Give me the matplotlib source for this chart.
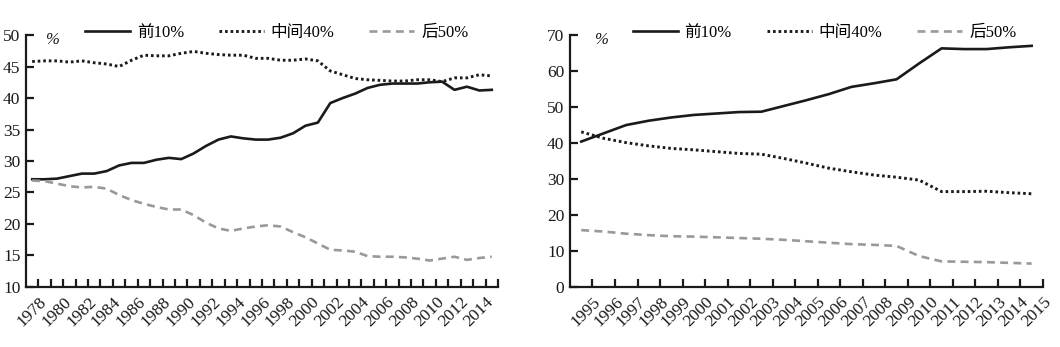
import numpy as np
import matplotlib
matplotlib.use('Agg')
import matplotlib.pyplot as plt

plt.rcParams['font.family'] = ['Liberation Serif', 'Noto Sans CJK SC']
plt.rcParams['axes.unicode_minus'] = False

# 1978-2015
years_a = list(range(1978, 2016))
top10_a = [27.1, 27.1, 27.2, 27.6, 28.0, 28.0, 28.4, 29.3, 29.7, 29.7,
           30.2, 30.5, 30.3, 31.2, 32.4, 33.4, 33.9, 33.6, 33.4, 33.4,
           33.7, 34.4, 35.6, 36.1, 39.2, 40.0, 40.7, 41.6, 42.1, 42.3,
           42.3, 42.3, 42.5, 42.6, 41.3, 41.8, 41.2, 41.3]
mid40_a = [45.8, 45.9, 45.9, 45.7, 45.9, 45.6, 45.4, 45.0, 46.0, 46.8,
           46.7, 46.7, 47.1, 47.4, 47.1, 46.9, 46.8, 46.8, 46.3, 46.3,
           46.0, 46.0, 46.2, 45.9, 44.3, 43.7, 43.1, 42.9, 42.8, 42.7,
           42.7, 42.9, 42.9, 42.6, 43.2, 43.2, 43.7, 43.5]
bot50_a = [26.9, 26.8, 26.4, 26.0, 25.8, 25.9, 25.6, 24.6, 23.8, 23.2,
           22.7, 22.3, 22.3, 21.4, 20.2, 19.3, 18.9, 19.3, 19.6, 19.8,
           19.6, 18.7, 17.9, 16.9, 15.9, 15.8, 15.6, 14.9, 14.8, 14.8,
           14.7, 14.5, 14.2, 14.5, 14.8, 14.3, 14.6, 14.8]

# 1995-2015
years_b = list(range(1995, 2016))
top10_b = [40.4, 42.7, 45.0, 46.2, 47.1, 47.8, 48.2, 48.6, 48.7, 50.3,
           51.9, 53.6, 55.6, 56.6, 57.7, 62.1, 66.3, 66.1, 66.1, 66.6, 67.0]
mid40_b = [43.1, 41.3, 40.1, 39.2, 38.5, 38.1, 37.6, 37.1, 36.9, 35.7,
           34.4, 33.0, 32.0, 31.1, 30.5, 29.7, 26.5, 26.5, 26.6, 26.2, 25.9]
bot50_b = [15.8, 15.4, 14.8, 14.4, 14.1, 14.0, 13.8, 13.6, 13.4, 13.1,
           12.7, 12.3, 11.9, 11.7, 11.4, 8.6, 7.1, 7.0, 6.9, 6.7, 6.5]

labels = ['前10%', '中间40%', '后50%']

fig = plt.figure(figsize=(10.6, 3.47), dpi=100)
ax1 = fig.add_axes([0.0245, 0.173, 0.4453, 0.726])
ax2 = fig.add_axes([0.5377, 0.173, 0.4462, 0.726])


def draw(ax, years, top, mid, bot, ylim, ystep, label_step, leg_x, pct_x):
    ax.plot(years, top, color='#1a1a1a', lw=1.9, label=labels[0])
    ax.plot(years, mid, color='#1a1a1a', lw=2.1, ls=(0, (0.9, 1.0)),
            label=labels[1])
    ax.plot(years, bot, color='#999999', lw=1.9, ls=(0, (3.0, 2.0)),
            label=labels[2])

    ax.set_xlim(years[0] - 0.5, years[-1] + 0.5)
    ax.set_ylim(*ylim)
    ax.set_yticks(np.arange(ylim[0], ylim[1] + 1, ystep))

    # category boundaries carry the tick marks, labels sit on the right edge
    ax.set_xticks(np.arange(years[0] + 0.5, years[-1] + 0.6, 1))
    ax.set_xticklabels([str(y) if (y - years[0]) % label_step == 0 else ''
                        for y in years], rotation=45, ha='right', va='top',
                       rotation_mode='anchor')

    for s in ['top', 'right']:
        ax.spines[s].set_visible(False)
    for s in ['left', 'bottom']:
        ax.spines[s].set_linewidth(1.6)
        ax.spines[s].set_color('#1a1a1a')
    ax.tick_params(axis='both', direction='in', length=6, width=1.6,
                   color='#1a1a1a', labelsize=12.5, labelcolor='#1a1a1a')
    ax.tick_params(axis='x', pad=5)
    ax.tick_params(axis='y', pad=4)

    ax.text(pct_x, 0.98, '%', transform=ax.transAxes, fontsize=12,
            style='italic', ha='left', va='center', color='#1a1a1a')

    ax.legend(loc='center left', bbox_to_anchor=(leg_x, 1.01), ncol=3,
              frameon=False, fontsize=12, handlelength=2.7,
              handletextpad=0.4, columnspacing=2.1, borderpad=0,
              borderaxespad=0)


draw(ax1, years_a, top10_a, mid40_a, bot50_a, (10, 50), 5, 2, 0.125, 0.04)
draw(ax2, years_b, top10_b, mid40_b, bot50_b, (0, 70), 10, 1, 0.133, 0.05)

fig.savefig('out.png', dpi=100)
